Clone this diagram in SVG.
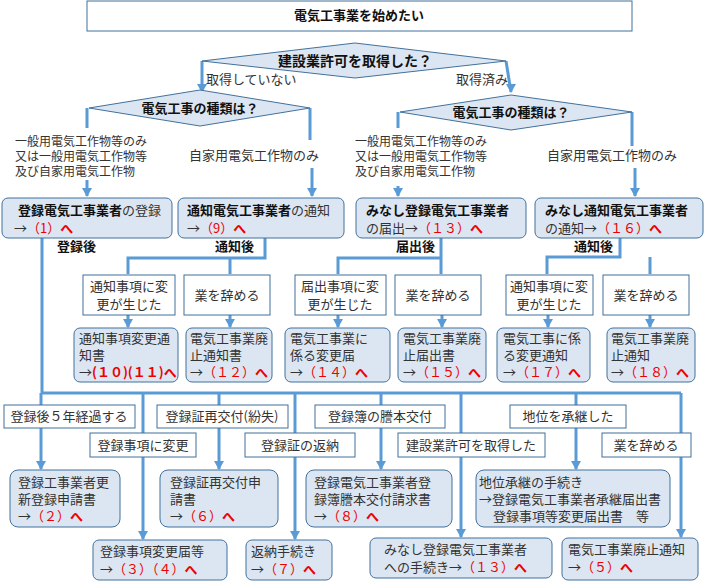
<svg xmlns="http://www.w3.org/2000/svg" width="709" height="586" viewBox="0 0 709 586">
<style>
text{font-family:"Noto Sans CJK JP","Liberation Sans",sans-serif;font-size:13px;fill:#333}
.b{font-weight:bold;fill:#111}
.r{fill:#ee0000}
.c{text-anchor:middle}
.s{font-size:12px}
.n{fill:#dce6f2;stroke:#41719c;stroke-width:1}
.w{fill:#fff;stroke:#41719c;stroke-width:1}
.l{fill:none;stroke:#5b9bd5;stroke-width:3}
</style>
<defs>
<marker id="m" markerUnits="userSpaceOnUse" markerWidth="10" markerHeight="10" refX="5" refY="9" viewBox="0 0 10 10" orient="0"><path d="M0,1L10,1L5,10Z" fill="#5b9bd5"/></marker></defs>
<rect width="709" height="586" fill="#fff"/>
<g id="connectors">
<path class="l" d="M202,61V92" marker-end="url(#m)"/>
<path class="l" d="M506,61L511,92" marker-end="url(#m)"/>
<path class="l" d="M87,108V128M87,180V196" marker-end="url(#m)"/>
<path class="l" d="M310,108V140M312,168V196" marker-end="url(#m)"/>
<path class="l" d="M398,112V128M398,186V196" marker-end="url(#m)"/>
<path class="l" d="M632,112V146M635,168V196" marker-end="url(#m)"/>
<path class="l" d="M265,238V258H128V274M230,258V274"/>
<path class="l" d="M128,315V327" marker-end="url(#m)"/>
<path class="l" d="M230,315V327" marker-end="url(#m)"/>
<path class="l" d="M441,238V258H338V274M441,258V274"/>
<path class="l" d="M338,315V327" marker-end="url(#m)"/>
<path class="l" d="M442,315V327" marker-end="url(#m)"/>
<path class="l" d="M620,238V257H547V274M650,257V274"/>
<path class="l" d="M548,315V327" marker-end="url(#m)"/>
<path class="l" d="M650,315V327" marker-end="url(#m)"/>
<path class="l" d="M42,238V393H681"/>
<path class="l" d="M41,393V469" marker-end="url(#m)"/>
<path class="l" d="M143,393V539" marker-end="url(#m)"/>
<path class="l" d="M219,393V469" marker-end="url(#m)"/>
<path class="l" d="M295,393V539" marker-end="url(#m)"/>
<path class="l" d="M381,393V469" marker-end="url(#m)"/>
<path class="l" d="M461,393V537" marker-end="url(#m)"/>
<path class="l" d="M576,393V469" marker-end="url(#m)"/>
<path class="l" d="M681,393V537" marker-end="url(#m)"/>
</g>
<g id="start"><rect x="87" y="1" width="545" height="30" fill="#fff" stroke="#41719c"/><text class="b c" x="359" y="20">電気工事業を始めたい</text></g>
<g id="q1"><path class="n" d="M202,61L355,43L506,61L355,78Z"/><text class="b c" x="355" y="66" style="font-size:14px">建設業許可を取得した？</text>
<text x="206" y="84">取得していない</text><text x="456" y="84">取得済み</text></g>
<g id="q2"><path class="n" d="M89,108L200,90L310,108L200,126Z"/><text class="b c" x="200" y="113">電気工事の種類は？</text>
<text class="s" x="15" y="146">一般用電気工作物等のみ</text><text class="s" x="15" y="161">又は一般用電気工作物等</text><text class="s" x="15" y="176">及び自家用電気工作物</text>
<text x="189" y="160">自家用電気工作物のみ</text></g>
<g id="q3"><path class="n" d="M400,112L511,95L632,112L511,130Z"/><text class="b c" x="511" y="117">電気工事の種類は？</text>
<text class="s" x="355" y="146">一般用電気工作物等のみ</text><text class="s" x="355" y="161">又は一般用電気工作物等</text><text class="s" x="355" y="176">及び自家用電気工作物</text>
<text x="547" y="160">自家用電気工作物のみ</text></g>
<g id="n1"><rect class="n" x="2" y="198" width="170" height="40" rx="6"/><text x="18" y="215"><tspan class="b">登録電気工事業者</tspan>の登録</text><text x="14" y="233">→<tspan class="r">（1）<tspan class="b r">へ</tspan></tspan></text><text class="b" x="57" y="251">登録後</text></g>
<g id="n9"><rect class="n" x="178" y="198" width="166" height="40" rx="6"/><text x="187" y="215"><tspan class="b">通知電気工事業者</tspan>の通知</text><text x="187" y="233">→<tspan class="r">（9）<tspan class="b r">へ</tspan></tspan></text><text class="b" x="215" y="251">通知後</text></g>
<g id="n13"><rect class="n" x="356" y="198" width="170" height="40" rx="6"/><text class="b" x="366" y="215">みなし登録電気工事業者</text><text x="366" y="233">の届出→<tspan class="r">（１３）<tspan class="b r">へ</tspan></tspan></text><text class="b" x="396" y="251">届出後</text></g>
<g id="n16"><rect class="n" x="535" y="198" width="168" height="40" rx="6"/><text class="b" x="545" y="215">みなし通知電気工事業者</text><text x="545" y="233">の通知→<tspan class="r">（１６）<tspan class="b r">へ</tspan></tspan></text><text class="b" x="574" y="251">通知後</text></g>
<g id="c1"><rect class="w" x="83" y="275" width="92" height="40"/><text class="c" x="129" y="291">通知事項に変</text><text class="c" x="129" y="309">更が生じた</text></g>
<g id="c2"><rect class="w" x="184" y="275" width="86" height="40"/><text class="c" x="227" y="300">業を辞める</text></g>
<g id="c3"><rect class="w" x="295" y="275" width="91" height="40"/><text class="c" x="340" y="291">届出事項に変</text><text class="c" x="340" y="309">更が生じた</text></g>
<g id="c4"><rect class="w" x="395" y="275" width="86" height="40"/><text class="c" x="438" y="300">業を辞める</text></g>
<g id="c5"><rect class="w" x="506" y="275" width="87" height="40"/><text class="c" x="549" y="291">通知事項に変</text><text class="c" x="549" y="309">更が生じた</text></g>
<g id="c6"><rect class="w" x="603" y="275" width="86" height="40"/><text class="c" x="646" y="300">業を辞める</text></g>
<g id="r10"><rect class="n" x="74" y="328" width="104" height="54" rx="6"/><text x="79" y="343">通知事項変更通</text><text x="79" y="360">知書</text><text x="79" y="377">→<tspan class="b r">(１０)(１１)へ</tspan></text></g>
<g id="r12"><rect class="n" x="186" y="328" width="86" height="54" rx="6"/><text x="190" y="343">電気工事業廃</text><text x="190" y="360">止通知書</text><text x="190" y="377">→<tspan class="r">（１２）<tspan class="b r">へ</tspan></tspan></text></g>
<g id="r14"><rect class="n" x="285" y="328" width="105" height="54" rx="6"/><text x="290" y="343">電気工事業に</text><text x="290" y="360">係る変更届</text><text x="290" y="377">→<tspan class="r">（１４）<tspan class="b r">へ</tspan></tspan></text></g>
<g id="r15"><rect class="n" x="398" y="328" width="88" height="54" rx="6"/><text x="403" y="343">電気工事業廃</text><text x="403" y="360">止届出書</text><text x="403" y="377">→<tspan class="r">（１５）<tspan class="b r">へ</tspan></tspan></text></g>
<g id="r17"><rect class="n" x="497" y="328" width="93" height="54" rx="6"/><text x="503" y="343">電気工事に係</text><text x="503" y="360">る変更通知</text><text x="503" y="377">→<tspan class="r">（１７）<tspan class="b r">へ</tspan></tspan></text></g>
<g id="r18"><rect class="n" x="607" y="328" width="88" height="54" rx="6"/><text x="611" y="343">電気工事業廃</text><text x="611" y="360">止通知</text><text x="611" y="377">→<tspan class="r">（１８）<tspan class="b r">へ</tspan></tspan></text></g>
<g id="l1"><rect class="w" x="4" y="405" width="131" height="23"/><text class="c" x="69" y="421">登録後５年経過する</text></g>
<g id="l2"><rect class="w" x="157" y="405" width="131" height="23"/><text class="c" x="222" y="421">登録証再交付(紛失)</text></g>
<g id="l3"><rect class="w" x="315" y="405" width="130" height="23"/><text class="c" x="380" y="421">登録簿の謄本交付</text></g>
<g id="l4"><rect class="w" x="510" y="405" width="116" height="23"/><text class="c" x="568" y="421">地位を承継した</text></g>
<g id="l5"><rect class="w" x="90" y="433" width="106" height="24"/><text class="c" x="143" y="450">登録事項に変更</text></g>
<g id="l6"><rect class="w" x="245" y="433" width="110" height="24"/><text class="c" x="300" y="450">登録証の返納</text></g>
<g id="l7"><rect class="w" x="398" y="433" width="147" height="24"/><text class="c" x="471" y="450">建設業許可を取得した</text></g>
<g id="l8"><rect class="w" x="602" y="433" width="89" height="24"/><text class="c" x="646" y="450">業を辞める</text></g>
<g id="b2"><rect class="n" x="10" y="470" width="110" height="57" rx="8"/><text x="18" y="487">登録工事業者更</text><text x="18" y="504">新登録申請書</text><text x="18" y="521">→<tspan class="r">（２）<tspan class="b r">へ</tspan></tspan></text></g>
<g id="b6"><rect class="n" x="160" y="470" width="118" height="57" rx="8"/><text x="170" y="487">登録証再交付申</text><text x="170" y="504">請書</text><text x="170" y="521">→<tspan class="r">（６）<tspan class="b r">へ</tspan></tspan></text></g>
<g id="b8"><rect class="n" x="306" y="470" width="146" height="57" rx="8"/><text x="314" y="487">登録電気工事業者登</text><text x="314" y="504">録簿謄本交付請求書</text><text x="314" y="521">→<tspan class="r">（８）<tspan class="b r">へ</tspan></tspan></text></g>
<g id="bs"><rect class="n" x="476" y="470" width="194" height="57" rx="8"/><text x="479" y="487">地位承継の手続き</text><text x="479" y="504">→登録電気工事業者承継届出書</text><text x="493" y="521">登録事項等変更届出書　等</text></g>
<g id="b3"><rect class="n" x="93" y="540" width="134" height="40" rx="6"/><text x="100" y="556">登録事項変更届等</text><text x="100" y="574">→<tspan class="r">（３）（４）<tspan class="b r">へ</tspan></tspan></text></g>
<g id="b7"><rect class="n" x="246" y="540" width="86" height="40" rx="6"/><text x="251" y="556">返納手続き</text><text x="251" y="574">→<tspan class="r">（７）<tspan class="b r">へ</tspan></tspan></text></g>
<g id="b13"><rect class="n" x="370" y="538" width="182" height="40" rx="6"/><text x="384" y="554">みなし登録電気工事業者</text><text x="384" y="572">への手続き→<tspan class="r">（１３）<tspan class="b r">へ</tspan></tspan></text></g>
<g id="b5"><rect class="n" x="562" y="538" width="136" height="42" rx="6"/><text x="568" y="554">電気工事業廃止通知</text><text x="568" y="572">→<tspan class="r">（５）<tspan class="b r">へ</tspan></tspan></text></g>
</svg>
